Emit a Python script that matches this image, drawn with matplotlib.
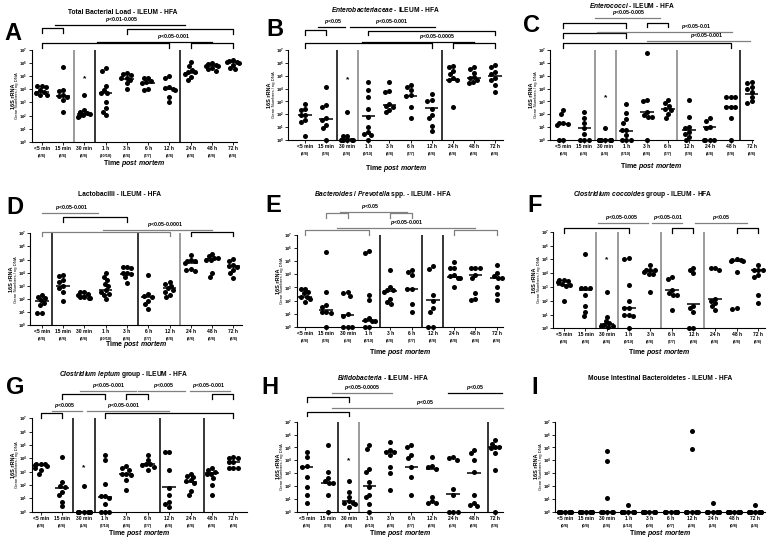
import numpy as np
import matplotlib
matplotlib.use("Agg")
import matplotlib.pyplot as plt
from matplotlib.transforms import blended_transform_factory

plt.rcParams['font.family'] = ['Liberation Sans', 'DejaVu Sans']
plt.rcParams['font.weight'] = 'bold'
plt.rcParams['mathtext.fontset'] = 'custom'
plt.rcParams['mathtext.rm'] = 'Liberation Sans:bold'
plt.rcParams['mathtext.it'] = 'Liberation Sans:italic:bold'
plt.rcParams['mathtext.bf'] = 'Liberation Sans:bold'

# ---------------- DATA (log10 of 16S rRNA gene numbers / ng DNA) ----------------
time_labels = ["<5 min", "15 min", "30 min", "1 h", "3 h", "6 h", "12 h", "24 h", "48 h", "72 h"]

A_log = [[4.25, 4.25, 4.2, 3.95, 3.8, 3.75, 3.6, 3.55],
         [5.7, 3.95, 3.9, 3.6, 3.5, 3.4, 3.2, 2.3],
         [3.55, 2.45, 2.3, 2.2, 2.15, 2.05, 1.95, 1.9],
         [5.6, 5.4, 4.25, 3.95, 3.7, 3.7, 3.05, 2.55, 2.3, 2.05],
         [5.25, 5.15, 5.1, 4.9, 4.85, 4.7, 4.45, 4.05],
         [4.85, 4.85, 4.6, 4.55, 4.5, 4.05, 3.95],
         [5.0, 4.85, 4.15, 4.1, 4.0, 3.95, 3.45, 3.05],
         [6.05, 5.75, 5.5, 5.35, 5.3, 5.2, 4.95, 4.7],
         [6.0, 5.95, 5.85, 5.8, 5.75, 5.6, 5.55, 5.4],
         [6.2, 6.15, 6.1, 6.05, 6.0, 5.85, 5.6, 5.55]]
A_med = [3.8, 3.5, 2.15, 3.7, 4.8, 4.5, 4.0, 5.25, 5.75, 6.05]
A_counts = ["(8/8)", "(8/8)", "(8/8)", "(10/10)", "(8/8)", "(7/7)", "(8/8)", "(8/8)", "(8/8)", "(8/8)"]
A_star = 4.8

B_log = [[2.8, 2.45, 2.35, 1.95, 1.95, 1.55, 1.4, 0.3],
         [4.15, 2.7, 2.55, 1.7, 1.55, 1.15, 0.9, 0],
         [2.2, 0.35, 0.35, 0, 0, 0, 0, 0],
         [4.5, 3.9, 3.35, 2.45, 1.8, 1.05, 0.65, 0.5, 0.4, 0],
         [4.5, 3.85, 3.75, 2.8, 2.65, 2.6, 2.35, 2.2],
         [4.3, 4.1, 3.9, 3.5, 3.4, 2.6, 1.7],
         [3.6, 3.1, 3.0, 2.45, 1.95, 1.7, 1.1, 0.7],
         [5.75, 5.65, 5.4, 5.15, 4.8, 4.7, 4.65, 2.6],
         [5.7, 5.55, 5.25, 4.9, 4.85, 4.65, 4.5, 4.4],
         [5.85, 5.7, 5.3, 5.15, 4.8, 4.65, 4.3, 3.75]]
B_med = [1.95, 1.65, 0.05, 1.85, 2.75, 3.45, 2.5, 4.65, 4.85, 5.0]
B_counts = ["(8/8)", "(7/8)", "(3/8)", "(9/10)", "(8/8)", "(7/7)", "(8/8)", "(8/8)", "(8/8)", "(8/8)"]
B_star = 4.65

C_log = [[2.3, 2.0, 1.3, 1.3, 1.25, 1.15, 0, 0],
         [2.2, 1.7, 1.3, 0.9, 0.5, 0, 0, 0],
         [0.9, 0, 0, 0, 0, 0, 0, 0],
         [2.8, 2.1, 1.6, 1.35, 0.8, 0.75, 0.4, 0, 0, 0],
         [6.8, 3.1, 3.05, 2.2, 1.95, 1.8, 1.8, 0],
         [3.1, 2.85, 2.65, 2.45, 2.35, 2.05, 1.75],
         [3.1, 1.8, 1.05, 0.9, 0.65, 0.5, 0.25, 0],
         [1.7, 1.5, 1.05, 0.9, 0, 0, 0, 0],
         [3.35, 3.35, 3.35, 2.6, 2.55, 2.55, 1.7, 0],
         [4.5, 4.4, 4.1, 4.0, 3.75, 3.35, 3.0, 2.9]]
C_med = [1.25, 0.95, 0.0, 0.7, 2.15, 2.4, 0.75, 1.05, 2.55, 3.6]
C_counts = ["(6/8)", "(5/8)", "(1/8)", "(7/10)", "(8/8)", "(7/7)", "(7/8)", "(4/8)", "(7/8)", "(8/8)"]
C_star = 3.3

D_log = [[2.3, 2.15, 2.05, 1.9, 1.65, 1.5, 0.9, 0.9],
         [3.85, 3.75, 3.45, 3.3, 3.0, 2.8, 2.55, 1.8],
         [2.55, 2.5, 2.4, 2.3, 2.15, 2.1, 2.05, 2.05],
         [4.0, 3.7, 3.45, 3.15, 2.95, 2.65, 2.55, 2.4, 2.3, 1.95],
         [4.4, 4.4, 4.35, 4.0, 4.0, 3.9, 3.7, 3.2],
         [3.8, 2.35, 2.2, 2.15, 1.8, 1.6, 1.25],
         [3.25, 3.15, 2.95, 2.8, 2.65, 2.55, 2.3, 2.1],
         [5.35, 4.95, 4.85, 4.85, 4.75, 4.25, 4.2, 4.15],
         [5.45, 5.25, 5.15, 5.1, 5.0, 4.95, 3.95, 3.65],
         [5.05, 4.9, 4.6, 4.5, 4.4, 4.2, 3.95, 3.55]]
D_med = [1.8, 3.0, 2.2, 2.65, 3.9, 2.15, 2.8, 4.75, 5.05, 4.5]
D_counts = ["(8/8)", "(8/8)", "(8/8)", "(10/10)", "(8/8)", "(7/7)", "(8/8)", "(8/8)", "(8/8)", "(8/8)"]
D_star = None

E_log = [[2.9, 2.85, 2.65, 2.55, 2.3, 2.3, 2.1, 1.85],
         [5.7, 2.65, 1.65, 1.5, 1.15, 1.15, 1.05, 0],
         [2.65, 2.6, 2.35, 0.95, 0.85, 0, 0, 0],
         [5.75, 5.65, 2.4, 2.05, 0.65, 0.5, 0.4, 0.4, 0, 0],
         [4.3, 3.05, 2.8, 2.8, 2.65, 2.1, 1.85, 1.75],
         [4.35, 4.2, 3.95, 2.9, 2.9, 1.7, 1.15],
         [4.6, 4.4, 2.4, 1.95, 1.4, 1.15, 0, 0],
         [4.95, 4.5, 4.5, 3.95, 3.85, 3.75, 3.7, 3.05],
         [4.5, 4.5, 4.45, 3.95, 3.7, 2.6, 2.15, 2.05],
         [4.7, 4.1, 3.85, 3.75, 3.7, 3.0, 2.5, 2.05]]
E_med = [2.3, 1.25, 0.9, 0.4, 2.7, 2.9, 2.05, 3.8, 3.95, 3.75]
E_counts = ["(8/8)", "(7/8)", "(5/8)", "(8/10)", "(8/8)", "(7/7)", "(8/8)", "(8/8)", "(8/8)", "(8/8)"]
E_star = None

F_log = [[3.5, 3.5, 3.4, 3.35, 3.2, 3.15, 3.05, 1.95],
         [5.4, 2.95, 2.95, 2.95, 2.4, 1.6, 1.2, 0.9],
         [2.65, 0.85, 0.55, 0.4, 0.25, 0.2, 0.15, 0.1],
         [5.1, 5.05, 3.15, 2.0, 1.45, 1.45, 0.95, 0.95, 0.9, 0],
         [4.6, 4.25, 4.2, 4.2, 4.1, 3.95, 3.9, 2.65],
         [3.7, 3.6, 2.8, 2.55, 2.4, 2.4, 1.35],
         [4.35, 4.2, 4.0, 1.65, 1.45, 1.2, 0, 0],
         [4.35, 4.35, 4.2, 2.15, 2.0, 1.8, 1.6, 1.35],
         [5.0, 4.95, 4.95, 4.9, 4.85, 4.05, 1.45, 1.4],
         [4.6, 4.25, 4.2, 4.2, 3.85, 3.75, 2.4, 1.85]]
F_med = [3.15, 2.8, 0.3, 1.45, 4.15, 2.8, 1.75, 2.1, 4.85, 4.2]
F_counts = ["(8/8)", "(8/8)", "(4/8)", "(9/10)", "(8/8)", "(7/7)", "(8/8)", "(8/8)", "(8/8)", "(8/8)"]
F_star = 4.95

G_log = [[3.6, 3.55, 3.55, 3.5, 3.4, 3.3, 3.1, 2.8],
         [4.1, 2.2, 1.9, 1.85, 1.5, 1.25, 0.75, 0.4],
         [1.9, 0, 0, 0, 0, 0, 0, 0],
         [4.25, 3.9, 2.05, 1.15, 1.15, 1.05, 0.6, 0, 0, 0],
         [3.4, 3.3, 3.15, 2.85, 2.8, 2.75, 2.4, 1.65],
         [4.25, 3.9, 3.6, 3.55, 3.5, 3.35, 3.1],
         [4.45, 4.45, 3.1, 1.75, 1.25, 0.75, 0.6, 0.35],
         [2.85, 2.65, 2.6, 2.35, 2.3, 2.15, 1.55, 1.25],
         [3.25, 3.15, 3.0, 2.85, 2.8, 2.55, 2.0, 1.25],
         [4.1, 4.05, 4.05, 3.7, 3.7, 3.3, 3.25, 3.25]]
G_med = [3.5, 1.8, 0.0, 1.1, 2.8, 3.55, 1.85, 2.2, 2.9, 3.7]
G_counts = ["(8/8)", "(8/8)", "(1/8)", "(7/10)", "(8/8)", "(7/7)", "(8/8)", "(8/8)", "(8/8)", "(8/8)"]
G_star = 3.3

H_log = [[4.65, 4.25, 3.55, 3.5, 2.7, 1.95, 1.3, 0.65],
         [5.2, 3.1, 2.6, 2.35, 2.2, 2.2, 1.3, 0],
         [2.35, 1.55, 1.15, 0.8, 0.7, 0.65, 0.6, 0.4],
         [5.2, 4.9, 3.35, 3.1, 2.3, 1.95, 1.3, 1.15, 0.6, 0],
         [5.45, 4.8, 4.65, 4.65, 4.4, 3.5, 3.0, 1.7],
         [5.2, 5.05, 4.4, 4.15, 3.5, 2.7, 1.3],
         [4.25, 3.55, 3.5, 3.35, 1.15, 0.8, 0.65, 0.65],
         [4.25, 4.2, 4.05, 1.8, 1.3, 0, 0, 0],
         [4.8, 4.55, 4.0, 3.1, 1.3, 0.7, 0.5, 0.45],
         [5.55, 5.3, 5.05, 5.0, 4.95, 4.55, 3.25, 0]]
H_med = [3.5, 2.25, 0.8, 2.0, 4.65, 3.5, 3.35, 1.4, 3.0, 5.05]
H_counts = ["(8/8)", "(7/8)", "(8/8)", "(9/10)", "(8/8)", "(7/7)", "(8/8)", "(5/8)", "(8/8)", "(7/8)"]
H_star = 3.95

I_log = [[0, 0, 0, 0, 0, 0, 0, 0],
         [0, 0, 0, 0, 0, 0, 0, 0],
         [4.7, 3.95, 1.1, 0, 0, 0, 0, 0],
         [0.55, 0, 0, 0, 0, 0, 0, 0, 0, 0],
         [0, 0, 0, 0, 0, 0, 0, 0],
         [0, 0, 0, 0, 0, 0, 0],
         [6.25, 4.9, 0, 0, 0, 0, 0, 0],
         [0.7, 0, 0, 0, 0, 0, 0, 0],
         [0, 0, 0, 0, 0, 0, 0, 0],
         [0.5, 0, 0, 0, 0, 0, 0, 0]]
I_med = [0, 0, 0, 0, 0, 0, 0, 0, 0, 0]
I_counts = ["(0/8)", "(0/8)", "(3/8)", "(1/10)", "(0/8)", "(0/7)", "(2/8)", "(1/8)", "(0/8)", "(1/8)"]
I_star = None

titles = {
    "A": "Total Bacterial Load - ILEUM - HFA",
    "B": "$Enterobacteriaceae$ - ILEUM - HFA",
    "C": "$Enterococci$ - ILEUM - HFA",
    "D": "Lactobacilli - ILEUM - HFA",
    "E": "$Bacteroides$ / $Prevotella$ spp. - ILEUM - HFA",
    "F": "$Clostridium$ $coccoides$ group - ILEUM - HFA",
    "G": "$Clostridium$ $leptum$ group - ILEUM - HFA",
    "H": "$Bifidobacteria$ - ILEUM - HFA",
    "I": "Mouse Intestinal Bacteroidetes - ILEUM - HFA",
}

# ---------------- LAYOUT (pixels) ----------------
W, H = 772, 544
GRAY = "#808080"
K = "black"
layout = {
    # rect (left, top, right, bottom), xlim, title xy, letter xy, xlabel offset
    "A": ((31.7, 50, 236.7, 141.7), (-0.47, 9.16), (123, 12), (13, 33), 22),
    "B": ((288.3, 50, 503.3, 140), (-0.79, 9.39), (385, 9), (275, 30), 28),
    "C": ((550, 50, 753.3, 140), (-0.64, 9.08), (632, 5), (532, 26), 27),
    "D": ((30, 233.3, 241.7, 325), (-0.55, 9.39), (120, 195), (15, 207), 20),
    "E": ((296.7, 235, 503.3, 326.7), (-0.39, 9.31), (383, 195), (273, 205), 26),
    "F": ((553.3, 231.7, 765, 328.3), (-0.49, 9.31), (643, 195), (535, 206), 24),
    "G": ((31.7, 418.3, 246.7, 511.7), (-0.42, 9.62), (123, 375), (15, 387), 22),
    "H": ((296.7, 421.7, 503.3, 511.7), (-0.48, 9.40), (383, 378), (270, 387), 22),
    "I": ((555, 421.7, 765, 511.7), (-0.47, 9.47), (660, 378), (535, 388), 22),
}
separators = {
    "A": [(1.5, GRAY), (2.5, K), (6.5, K)],
    "B": [(1.5, K), (2.5, GRAY), (6.5, K)],
    "C": [(1.5, GRAY), (2.5, GRAY), (5.45, GRAY), (8.45, K)],
    "D": [(0.5, K), (4.5, K), (6.5, GRAY)],
    "E": [(3.5, K), (5.5, K), (6.5, K)],
    "F": [(1.5, GRAY), (2.5, GRAY), (4.5, GRAY), (6.5, GRAY)],
    "G": [(1.5, K), (2.55, K), (5.58, K), (7.62, K)],
    "H": [(1.5, K), (2.52, GRAY), (8.67, K)],
    "I": [],
}
# brackets: (group1, group2, height in axes fraction, colour)
brackets = {
    "A": [(0, 1, 1.236, K), (4, 9, 1.225, K), (0, 6, 1.073, K), (7, 9, 1.073, K)],
    "B": [(0, 1, 1.222, K), (3, 9, 1.215, K), (0, 6, 1.074, K), (7, 9, 1.074, K)],
    "C": [(0, 3, 1.296, K), (4, 5, 1.304, K), (0, 3, 1.185, K), (0, 8, 1.074, K)],
    "D": [(1, 4, 1.175, K), (0, 6, 1.018, GRAY), (7, 9, 1.018, K)],
    "E": [(1, 2, 1.236, GRAY), (4, 5, 1.236, GRAY), (0, 3, 1.055, GRAY), (7, 9, 1.055, GRAY)],
    "F": [(0, 3, 1.034, K), (5, 6, 1.034, K), (8, 9, 1.034, K)],
    "G": [(1, 3, 1.257, K), (4, 5, 1.257, K), (8, 9, 1.257, K), (0, 1, 1.054, K), (3, 9, 1.054, K)],
    "H": [(0, 2, 1.270, K), (0, 2, 1.111, K)],
    "I": [],
}
# significance lines: (x1, x2, height, text, text x, colour)
siglines = {
    "A": [(0.63, 6.73, 1.273, "$p$<0.01-0.005", 3.76, K), (2.58, 7.98, 1.091, "$p$<0.05-0.001", 6.18, K)],
    "B": [(0.63, 1.9, 1.259, "$p$<0.05", 1.34, K), (2.13, 6.16, 1.259, "$p$<0.05-0.001", 4.1, K),
          (2.69, 7.98, 1.093, "$p$<0.05-0.0005", 6.24, K)],
    "C": [(1.51, 4.62, 1.352, "$p$<0.05-0.005", 3.1, GRAY), (1.59, 8.04, 1.204, "$p$<0.05-0.01", 6.37, GRAY),
          (3.98, 8.92, 1.104, "$p$<0.05-0.001", 6.85, GRAY)],
    "D": [(0.0, 2.66, 1.218, "$p$<0.05-0.001", 1.41, GRAY), (2.9, 7.98, 1.036, "$p$<0.05-0.0001", 5.79, GRAY)],
    "E": [(1.64, 4.77, 1.255, "$p$<0.05", 3.05, GRAY), (1.49, 7.98, 1.08, "$p$<0.05-0.001", 4.77, GRAY)],
    "F": [(1.59, 3.9, 1.086, "$p$<0.05-0.005", 2.67, GRAY), (4.06, 5.49, 1.086, "$p$<0.05-0.01", 4.83, GRAY),
          (6.06, 8.46, 1.086, "$p$<0.05", 7.3, GRAY)],
    "G": [(1.84, 4.45, 1.296, "$p$<0.05-0.001", 3.16, GRAY), (4.56, 6.74, 1.296, "$p$<0.005", 5.73, GRAY),
          (6.95, 8.85, 1.296, "$p$<0.05-0.001", 7.83, GRAY), (0.51, 1.92, 1.082, "$p$<0.005", 1.14, GRAY),
          (2.15, 5.97, 1.082, "$p$<0.05-0.001", 3.86, GRAY)],
    "H": [(1.23, 4.06, 1.315, "$p$<0.05-0.0005", 2.63, GRAY), (6.77, 9.32, 1.315, "$p$<0.05", 8.04, K),
          (1.23, 9.39, 1.148, "$p$<0.05", 5.65, GRAY)],
    "I": [],
}

panel_data = {
    "A": (A_log, A_med, A_counts, A_star), "B": (B_log, B_med, B_counts, B_star),
    "C": (C_log, C_med, C_counts, C_star), "D": (D_log, D_med, D_counts, D_star),
    "E": (E_log, E_med, E_counts, E_star), "F": (F_log, F_med, F_counts, F_star),
    "G": (G_log, G_med, G_counts, G_star), "H": (H_log, H_med, H_counts, H_star),
    "I": (I_log, I_med, I_counts, I_star),
}


def swarm(logs, ppy, d, lim):
    ys = np.asarray(logs, float) * ppy
    order = np.argsort(-ys, kind="stable")
    placed = []
    xs = np.zeros(len(ys))
    for k in order:
        y = ys[k]
        cands = [0.0]
        for (px, py) in placed:
            dy = abs(y - py)
            if dy < d:
                dx = np.sqrt(d * d - dy * dy)
                cands += [px + dx, px - dx]
        cands.sort(key=lambda c: (abs(c), c))
        for c in cands:
            if all((c - px) ** 2 + (y - py) ** 2 >= d * d - 1e-6 for px, py in placed):
                xs[k] = c
                placed.append((c, y))
                break
    return np.clip(xs, -lim, lim)


fig = plt.figure(figsize=(W / 100, H / 100), dpi=100)
PX = 0.72  # points per pixel

for key, (vals, meds, counts, star) in panel_data.items():
    (l, t, r, b), xlim, txy, lxy, xlo = layout[key]
    ax = fig.add_axes([l / W, 1 - b / H, (r - l) / W, (b - t) / H])
    ax.set_yscale("log")
    ax.set_ylim(1, 1e7)
    ax.set_xlim(*xlim)
    ppx = (r - l) / (xlim[1] - xlim[0])
    ppy = (b - t) / 7.0
    for i, vs in enumerate(vals):
        offs = swarm(vs, ppy, 4.4, 6.0) / ppx
        ax.scatter(i + offs, np.power(10.0, vs), s=13, c="black", linewidths=0,
                   zorder=4, clip_on=False)
        m = 10 ** meds[i]
        ax.plot([i - 0.32, i + 0.32], [m, m], color="black", lw=1.1, zorder=5,
                solid_capstyle="butt", clip_on=False)
    if star is not None:
        ax.text(2, 10 ** star, "*", ha="center", va="center", fontsize=6)
    for xs, col in separators[key]:
        ax.axvline(xs, color=col, lw=1.1, zorder=2)
    tr = blended_transform_factory(ax.transData, ax.transAxes)
    drop = 0.05
    for g1, g2, y, col in brackets[key]:
        ax.plot([g1, g1, g2, g2], [y - drop, y, y, y - drop], transform=tr, color=col,
                lw=0.9, clip_on=False)
    for x1, x2, y, txt, tx, col in siglines[key]:
        ax.plot([x1, x2], [y, y], transform=tr, color=col, lw=0.9, clip_on=False)
        ax.text(tx, y + 0.01, txt, transform=tr, ha="center", va="bottom", fontsize=3.8)

    for s in ["top", "right"]:
        ax.spines[s].set_visible(False)
    for s in ["left", "bottom"]:
        ax.spines[s].set_linewidth(0.8)
    ax.set_yticks([10.0 ** k for k in range(8)])
    ax.set_yticklabels([f"$10^{{{k}}}$" for k in range(8)], fontsize=3.0)
    ax.yaxis.set_minor_locator(matplotlib.ticker.NullLocator())
    ax.set_xticks(range(10))
    ax.set_xticklabels(time_labels, fontsize=3.6, fontweight="bold")
    ax.tick_params(axis="both", length=2, width=0.6, pad=1.0)
    for i, c in enumerate(counts):
        ax.annotate(c, xy=(i, 0), xycoords=("data", "axes fraction"),
                    xytext=(0, -14 * PX), textcoords="offset points",
                    ha="center", va="center", fontsize=2.8)
    ax.annotate("Time $post$ $mortem$", xy=(0.5, 0), xycoords="axes fraction",
                xytext=(0, -xlo * PX), textcoords="offset points",
                ha="center", va="center", fontsize=5)
    ax.annotate("16S rRNA", xy=(0, 0.5), xycoords="axes fraction",
                xytext=(-18.5 * PX, 0), textcoords="offset points", rotation=90,
                ha="center", va="center", fontsize=4.0)
    ax.annotate("Gene Numbers / ng DNA", xy=(0, 0.5), xycoords="axes fraction",
                xytext=(-14.3 * PX, 0), textcoords="offset points", rotation=90,
                ha="center", va="center", fontsize=3.1, fontweight="normal")
    fig.text(txy[0] / W, 1 - txy[1] / H, titles[key], ha="center", va="center", fontsize=4.8)
    fig.text(lxy[0] / W, 1 - lxy[1] / H, key, ha="center", va="center", fontsize=17,
             fontweight="bold")

fig.savefig("out.png", dpi=100)
